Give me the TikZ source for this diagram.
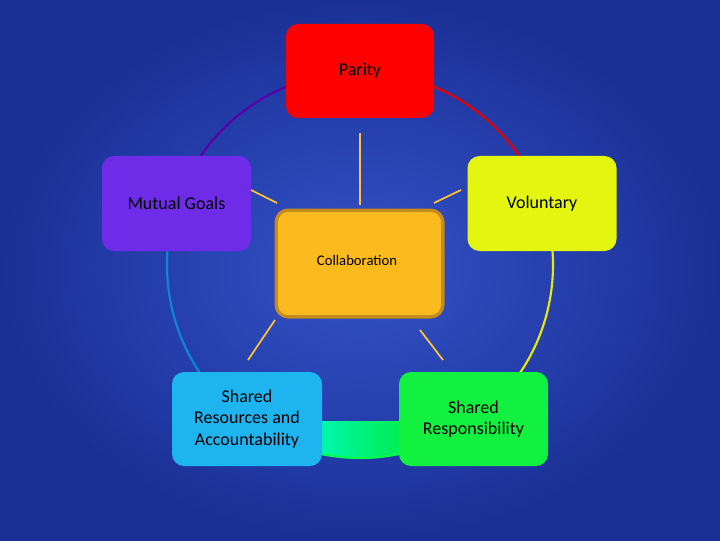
\documentclass[tikz,border=0pt]{standalone}
\usepackage{fontspec}
\setmainfont{Carlito}
\begin{document}
\begin{tikzpicture}[x=0.75pt,y=0.75pt,
  box/.style={rounded corners=9, align=center, inner sep=2pt, font=\fontsize{13.5}{16}\selectfont},
  spoke/.style={draw=orange!60!yellow!80!white, line width=1.3pt},
  ring/.style={line width=1.6pt}]
\shade[inner color={rgb,255:red,52;green,82;blue,200}, outer color={rgb,255:red,26;green,48;blue,150}] (0,0) rectangle (720,540);
\useasboundingbox (0,0) rectangle (720,540);
\coordinate (c) at (360,275);
\draw[ring, red!90!black] ([shift={(90:193)}]c) arc (90:18:193);
\draw[ring, yellow!90!green] ([shift={(18:193)}]c) arc (18:-54:193);
\draw[ring, left color=cyan, right color=green!90!black, draw=green!70!cyan] ([shift={(-54:193)}]c) arc (-54:-126:193);
\draw[ring, cyan!70!blue] ([shift={(-126:193)}]c) arc (-126:-198:193);
\draw[ring, violet!70!blue] ([shift={(162:193)}]c) arc (162:90:193);
\node[box, fill={rgb,255:red,255;green,0;blue,0}, minimum width=111pt, minimum height=70.5pt] (par) at (360,469) {Parity};
\node[box, fill={rgb,255:red,110;green,44;blue,232}, minimum width=111.75pt, minimum height=71.25pt] (mut) at (176.5,336.5) {Mutual Goals};
\node[box, fill={rgb,255:red,228;green,246;blue,15}, minimum width=111.75pt, minimum height=71.25pt] (vol) at (542,336.5) {Voluntary};
\node[box, fill={rgb,255:red,251;green,186;blue,30}, draw={rgb,255:red,196;green,140;blue,30}, line width=2.5pt, minimum width=125pt, minimum height=80pt] (col) at (359.5,276.5) {};
\node[font=\fontsize{11}{13}\selectfont] (coltxt) at (357,280) {Collaboration};
\node[box, fill={rgb,255:red,30;green,180;blue,240}, minimum width=112.5pt, minimum height=70.5pt] (res) at (247,121) {Shared\\Resources and\\Accountability};
\node[box, fill={rgb,255:red,18;green,240;blue,64}, minimum width=111.75pt, minimum height=70.5pt] (resp) at (473.5,121) {Shared\\Responsibility};
\coordinate (s1a) at (360,407); \coordinate (s1b) at (360,335);
\coordinate (s2a) at (251,350); \coordinate (s2b) at (277,337);
\coordinate (s3a) at (461,350); \coordinate (s3b) at (434,337);
\coordinate (s4a) at (275,220); \coordinate (s4b) at (248,180);
\coordinate (s5a) at (420,210); \coordinate (s5b) at (443,180);
\draw[spoke] (s1a) -- (s1b);
\draw[spoke] (s2a) -- (s2b);
\draw[spoke] (s3a) -- (s3b);
\draw[spoke] (s4a) -- (s4b);
\draw[spoke] (s5a) -- (s5b);
\end{tikzpicture}
\end{document}
